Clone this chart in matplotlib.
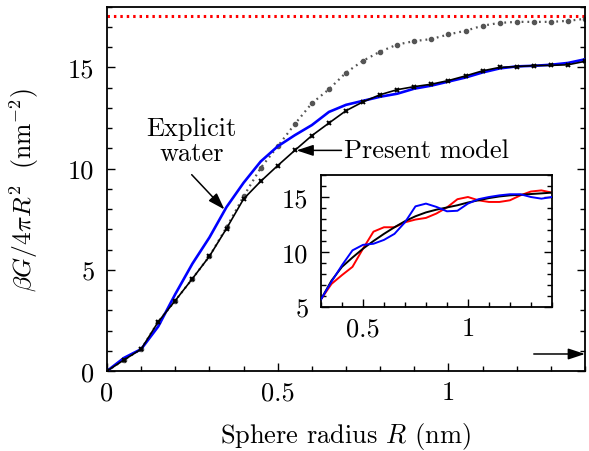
import numpy as np
import matplotlib
matplotlib.use("Agg")
import matplotlib.pyplot as plt

plt.rcParams['font.family'] = 'serif'
plt.rcParams['font.serif'] = ['cmr10']
plt.rcParams['mathtext.fontset'] = 'cm'
plt.rcParams['axes.formatter.use_mathtext'] = True

# ---- data ----
R_main = [0.00, 0.05, 0.10, 0.15, 0.20, 0.25, 0.30, 0.35, 0.40, 0.45, 0.50, 0.55, 0.60, 0.65,
          0.70, 0.75, 0.80, 0.85, 0.90, 0.95, 1.00, 1.05, 1.10, 1.15, 1.20, 1.25, 1.30, 1.35, 1.40]
present_model = [0.0, 0.55, 1.08, 2.43, 3.48, 4.56, 5.67, 7.04, 8.5, 9.37, 10.15, 10.9, 11.63, 12.25,
                 12.86, 13.3, 13.65, 13.9, 14.05, 14.17, 14.35, 14.58, 14.83, 15.0, 15.04, 15.09, 15.1, 15.13, 15.3]
explicit_water = [0.0, 0.65, 1.08, 2.2, 3.8, 5.3, 6.6, 8.1, 9.3, 10.35, 11.1, 11.65, 12.15, 12.8,
                  13.15, 13.35, 13.55, 13.7, 13.95, 14.1, 14.3, 14.5, 14.75, 14.95, 15.05, 15.08, 15.13, 15.22, 15.4]
gray_model = [0.0, 0.55, 1.08, 2.43, 3.48, 4.56, 5.67, 7.1, 8.63, 10.03, 11.1, 12.2, 13.23, 13.92,
              14.74, 15.33, 15.78, 16.13, 16.3, 16.4, 16.63, 16.81, 17.06, 17.2, 17.25, 17.25, 17.25, 17.3, 17.4]
asymptote = 17.52

R_inset = [0.30, 0.35, 0.40, 0.45, 0.50, 0.55, 0.60, 0.65, 0.70, 0.75, 0.80, 0.85,
           0.90, 0.95, 1.00, 1.05, 1.10, 1.15, 1.20, 1.25, 1.30, 1.35, 1.40]
inset_black = [5.7, 7.4, 8.65, 9.5, 10.3, 11.0, 11.65, 12.25, 12.8, 13.25, 13.6, 13.85,
               14.05, 14.25, 14.5, 14.7, 14.9, 15.05, 15.15, 15.2, 15.27, 15.33, 15.4]
inset_red = [5.7, 7.1, 7.9, 8.65, 10.3, 11.85, 12.25, 12.25, 12.7, 12.95, 13.1, 13.5,
             14.05, 14.8, 15.0, 14.7, 14.55, 14.55, 14.7, 15.15, 15.5, 15.6, 15.4]
inset_blue = [5.7, 7.3, 8.8, 10.15, 10.65, 10.75, 11.1, 11.65, 12.7, 14.15, 14.4, 14.1,
              13.7, 13.75, 14.4, 14.8, 15.0, 15.15, 15.25, 15.25, 15.0, 14.85, 15.0]

main_xticks = [0, 0.5, 1]
main_xticklabels = ['0', '0.5', '1']
main_yticks = [0, 5, 10, 15]
main_yticklabels = ['0', '5', '10', '15']
inset_xticks = [0.5, 1]
inset_xticklabels = ['0.5', '1']
inset_yticks = [5, 10, 15]
inset_yticklabels = ['5', '10', '15']

FS = 19

fig = plt.figure(figsize=(5.89, 4.52), dpi=100)
ax = fig.add_axes([0.1817, 0.177, 0.8115, 0.806])

ax.axhline(asymptote, color='red', lw=2.2, linestyle=(0, (0.8, 1.3)), zorder=1)
ax.plot(R_main, gray_model, color='#555555', lw=1.6, linestyle=(0, (0.8, 1.8)),
        marker='o', ms=3, zorder=2)
ax.plot(R_main, explicit_water, color='#0000ff', lw=1.9, zorder=3)
ax.plot(R_main, present_model, color='black', lw=1.2, marker='x', ms=3.5, mew=1.4, zorder=4)

ax.set_xlim(0, 1.4)
ax.set_ylim(0, 18)
ax.set_xticks(main_xticks)
ax.set_xticklabels(main_xticklabels)
ax.set_yticks(main_yticks)
ax.set_yticklabels(main_yticklabels)
ax.set_xticks(np.arange(0, 1.41, 0.1), minor=True)
ax.set_yticks(np.arange(0, 18.1, 1), minor=True)
ax.tick_params(which='both', direction='in', top=False, right=True, labelsize=FS, width=1.0)
ax.tick_params(which='major', length=6)
ax.tick_params(which='minor', length=3.5)
ax.tick_params(axis='x', pad=7)
ax.tick_params(axis='y', pad=9)
for s in ax.spines.values():
    s.set_linewidth(1.3)

ax.set_xlabel(r'Sphere radius $R$ (nm)', fontsize=FS, labelpad=11)
ax.set_ylabel(r'$\beta G/4\pi R^2\ \ (\mathrm{nm}^{-2})$', fontsize=18.5)
ax.yaxis.set_label_coords(-0.138, 0.5)

arrow_kw = dict(arrowstyle='-|>,head_length=0.85,head_width=0.28', color='black', lw=1.1,
                shrinkA=0, shrinkB=0, mutation_scale=12)
ax.annotate('', xy=(0.344, 7.98), xytext=(0.248, 9.7), arrowprops=arrow_kw)
ax.text(0.248, 11.4, 'Explicit\nwater', ha='center', va='center', fontsize=FS,
        linespacing=1.08)
ax.annotate('Present model', xy=(0.555, 10.9), xytext=(0.695, 10.9), va='center',
            ha='left', fontsize=FS, arrowprops=arrow_kw)
ax.annotate('', xy=(1.4, 0.84), xytext=(1.25, 0.84), arrowprops=arrow_kw,
            annotation_clip=False)

# ---- inset ----
ins = fig.add_axes([0.545, 0.3186, 0.392, 0.292])
ins.plot(R_inset, inset_black, color='black', lw=1.4, zorder=3)
ins.plot(R_inset, inset_red, color='#ff0000', lw=1.4, zorder=2)
ins.plot(R_inset, inset_blue, color='#0000ff', lw=1.4, zorder=4)
ins.set_xlim(0.3, 1.4)
ins.set_ylim(5, 17)
ins.set_xticks(inset_xticks)
ins.set_xticklabels(inset_xticklabels)
ins.set_yticks(inset_yticks)
ins.set_yticklabels(inset_yticklabels)
ins.set_xticks(np.arange(0.3, 1.41, 0.1), minor=True)
ins.set_yticks(np.arange(5, 17.1, 1), minor=True)
ins.tick_params(which='both', direction='in', top=False, right=True, labelsize=FS, width=1.0)
ins.tick_params(which='major', length=6)
ins.tick_params(which='minor', length=3.5)
ins.tick_params(axis='x', pad=7)
ins.tick_params(axis='y', pad=9)
for s in ins.spines.values():
    s.set_linewidth(1.3)

fig.savefig('out.png', dpi=100)
